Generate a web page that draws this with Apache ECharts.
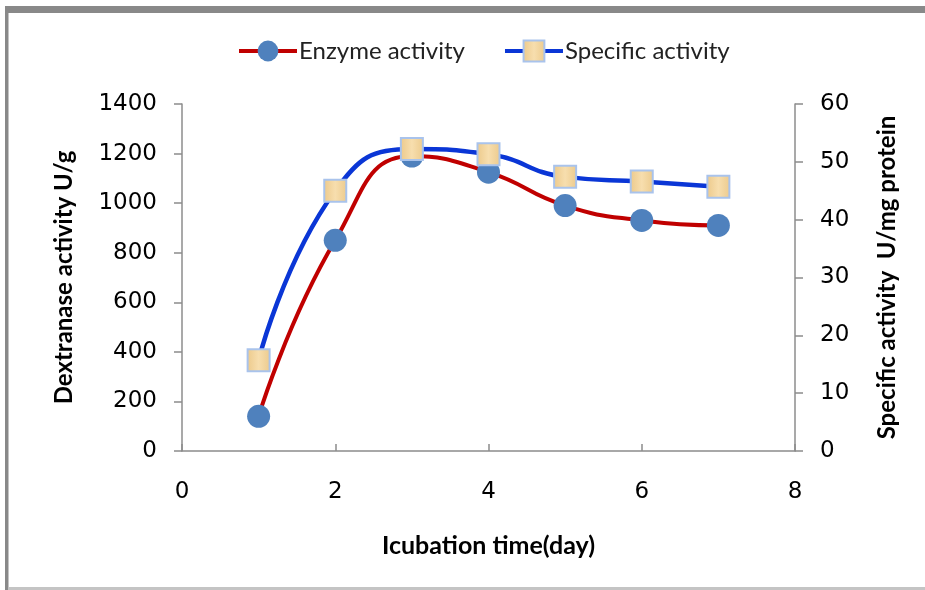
<!DOCTYPE html>
<html>
<head>
<meta charset="utf-8">
<script src="https://cdn.jsdelivr.net/npm/echarts@6/dist/echarts.min.js"></script>
<style>
  html, body { margin: 0; padding: 0; background: #fff; }
  #chart { width: 925px; height: 590px; }
</style>
</head>
<body>
<div id="chart"></div>
<script>
// Incubation days
const days = [1, 2, 3, 4, 5, 6, 7];
// Dextranase activity (U/g)
const enzymeActivity = [140, 850, 1190, 1125, 990, 930, 910];
// Specific activity (U/mg protein)
const specificActivity = [15.7, 45, 52.2, 51.3, 47.4, 46.6, 45.7];

const xTicks = [0, 2, 4, 6, 8];
const leftTicks = [0, 200, 400, 600, 800, 1000, 1200, 1400];
const rightTicks = [0, 10, 20, 30, 40, 50, 60];

const labelFont = '"DejaVu Sans", "Liberation Sans", sans-serif';
const titleFont = 'Lato, "Open Sans", sans-serif';
const axisGray = '#8c8c8c';

const chart = echarts.init(document.getElementById('chart'), null, { renderer: 'canvas' });

const option = {
  backgroundColor: '#ffffff',
  animation: false,
  graphic: [
    // outer frame
    { type: 'rect', shape: { x: 5, y: 6, width: 930, height: 7 }, style: { fill: '#898989' }, silent: true },
    { type: 'rect', shape: { x: 5, y: 6, width: 3.5, height: 590 }, style: { fill: '#898989' }, silent: true },
    { type: 'rect', shape: { x: 8, y: 587, width: 930, height: 3 }, style: { fill: '#c4c4c4' }, silent: true }
  ],
  legend: {
    top: 34,
    left: 232,
    itemGap: 38,
    itemWidth: 58,
    itemHeight: 26,
    lineStyle: { width: 4 },
    textStyle: { fontFamily: titleFont, fontSize: 24, color: '#222', padding: [0, 0, 0, -3] },
    data: ['Enzyme activity', 'Specific activity']
  },
  grid: { left: 182, right: 130, top: 104, bottom: 139 },
  xAxis: {
    type: 'value',
    min: 0, max: 8, interval: 2,
    name: 'Icubation time(day)',
    nameLocation: 'middle',
    nameGap: 82,
    nameTextStyle: { fontFamily: titleFont, fontSize: 25, fontWeight: 'bold', color: '#000' },
    axisLine: { lineStyle: { color: axisGray, width: 1.5 } },
    axisTick: { inside: true, length: 7, lineStyle: { color: axisGray, width: 1.5 } },
    axisLabel: { margin: 30, fontFamily: labelFont, fontSize: 23, color: '#000',
      formatter: v => xTicks.includes(v) ? String(v) : '' },
    splitLine: { show: false }
  },
  yAxis: [
    {
      type: 'value',
      min: 0, max: 1400, interval: 200,
      position: 'left',
      name: 'Dextranase activity U/g',
      nameLocation: 'middle',
      nameGap: 106,
      nameRotate: 90,
      nameTextStyle: { fontFamily: titleFont, fontSize: 24, fontWeight: 'bold', color: '#000' },
      axisLine: { show: true, lineStyle: { color: axisGray, width: 1.5 } },
      axisTick: { show: true, length: 8, lineStyle: { color: axisGray, width: 1.5 } },
      axisLabel: { margin: 25, fontFamily: labelFont, fontSize: 23, color: '#000',
        formatter: v => leftTicks.includes(v) ? String(v) : '' },
      splitLine: { show: false }
    },
    {
      type: 'value',
      min: 0, max: 60, interval: 10,
      position: 'right',
      name: 'Specific activity  U/mg protein',
      nameLocation: 'middle',
      nameGap: 80,
      nameRotate: 90,
      nameTextStyle: { fontFamily: titleFont, fontSize: 24, fontWeight: 'bold', color: '#000' },
      axisLine: { show: true, lineStyle: { color: axisGray, width: 1.5 } },
      axisTick: { show: true, length: 8, lineStyle: { color: axisGray, width: 1.5 } },
      axisLabel: { margin: 25, fontFamily: labelFont, fontSize: 23, color: '#000',
        formatter: v => rightTicks.includes(v) ? String(v) : '' },
      splitLine: { show: false }
    }
  ],
  series: [
    {
      name: 'Enzyme activity',
      type: 'line',
      yAxisIndex: 0,
      smooth: 0.5,
      data: days.map((d, i) => [d, enzymeActivity[i]]),
      symbol: 'circle',
      symbolSize: 23,
      showAllSymbol: true,
      lineStyle: { color: '#c00000', width: 4 },
      itemStyle: { color: '#4f81bd', borderWidth: 0 },
      z: 2
    },
    {
      name: 'Specific activity',
      type: 'line',
      yAxisIndex: 1,
      smooth: 0.5,
      data: days.map((d, i) => [d, specificActivity[i]]),
      symbol: 'rect',
      symbolSize: 22,
      showAllSymbol: true,
      lineStyle: { color: '#0a36d6', width: 4.5 },
      itemStyle: {
        color: new echarts.graphic.LinearGradient(0, 0, 1, 0, [
          { offset: 0, color: '#ecc98a' },
          { offset: 0.5, color: '#f7deae' },
          { offset: 1, color: '#ecca8c' }
        ]),
        borderColor: '#a9c3ec',
        borderWidth: 2
      },
      z: 3
    }
  ]
};

chart.setOption(option);
</script>
</body>
</html>
